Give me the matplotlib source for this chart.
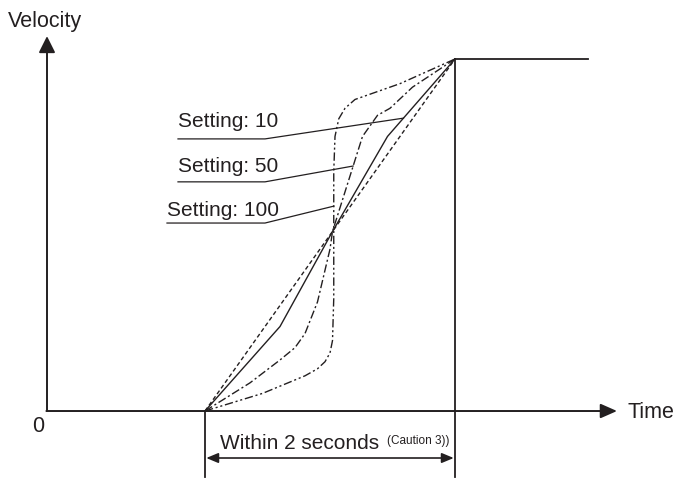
import numpy as np
import matplotlib
matplotlib.use("Agg")
import matplotlib.pyplot as plt

plt.rcParams['font.family'] = ['Liberation Sans', 'DejaVu Sans']

# time axis (s) and velocity (normalised)
t_start = 1.264
t_end = 3.264
t_flat_end = 4.328

# curve shapes as fraction of the 2 s ramp (u) vs fraction of top speed (v)
linear_u = [0.0, 1.0]
linear_v = [0.0, 1.0]

set10_u = [0.0, 0.30, 0.51, 0.73, 1.0]
set10_v = [0.0, 0.24, 0.51, 0.78, 1.0]

set50_u = [0.0, 0.18, 0.30, 0.36, 0.40, 0.45, 0.50, 0.51, 0.55, 0.59, 0.63, 0.69, 0.74, 0.83, 1.0]
set50_v = [0.0, 0.08, 0.145, 0.18, 0.22, 0.31, 0.46, 0.51, 0.60, 0.69, 0.78, 0.84, 0.86, 0.92, 1.0]

set100_u = [0.0, 0.23, 0.40, 0.45, 0.48, 0.50, 0.51, 0.515, 0.515, 0.515, 0.52, 0.535, 0.56, 0.60, 0.66, 0.78, 1.0]
set100_v = [0.0, 0.05, 0.10, 0.12, 0.14, 0.165, 0.20, 0.32, 0.50, 0.68, 0.78, 0.83, 0.86, 0.885, 0.90, 0.93, 1.0]

labels = ["Setting: 10", "Setting: 50", "Setting: 100"]
label_v = [0.807, 0.679, 0.554]       # text baselines
label_left = [1.048, 1.048, 0.96]
underline_v = [0.773, 0.651, 0.534]
leader_target_v = [0.832, 0.696, 0.582]

ink = '#231f20'

fig = plt.figure(figsize=(6.75, 4.78), dpi=100)
ax = fig.add_axes([0, 0, 1, 1])
ax.set_xlim(-0.376, 5.024)
ax.set_ylim(-0.1903, 1.1676)
ax.axis('off')


def to_t(u):
    return t_start + (t_end - t_start) * np.asarray(u)


# axes with arrows
ax.annotate('', xy=(0, 1.065), xytext=(0, 0),
            arrowprops=dict(arrowstyle='-|>,head_length=0.5,head_width=0.25',
                            mutation_scale=20, lw=1.4, color=ink,
                            shrinkA=0, shrinkB=0))
ax.annotate('', xy=(4.56, 0), xytext=(-0.005, 0),
            arrowprops=dict(arrowstyle='-|>,head_length=0.5,head_width=0.22',
                            mutation_scale=20, lw=1.4, color=ink,
                            shrinkA=0, shrinkB=0))

# curves
ax.plot(to_t(linear_u), linear_v, color=ink, lw=1.0, linestyle=(0, (3, 2)))
ax.plot(to_t(set10_u), set10_v, color=ink, lw=1.0)
ax.plot(to_t(set50_u), set50_v, color=ink, lw=1.0, linestyle=(0, (6, 2, 1.5, 2)))
ax.plot(to_t(set100_u), set100_v, color=ink, lw=1.0,
        linestyle=(0, (6, 2, 1.5, 2, 1.5, 2)))

# top speed plateau and boundary lines
ax.plot([t_end, t_flat_end], [1, 1], color=ink, lw=1.3)
ax.plot([t_end, t_end], [1, -0.1875], color=ink, lw=1.3)
ax.plot([t_start, t_start], [0, -0.1875], color=ink, lw=1.3)

# leaders and labels
curves = [(set10_u, set10_v), (set50_u, set50_v), (set100_u, set100_v)]
for (cu, cv), lab, lv, lx, uv, tv in zip(curves, labels, label_v, label_left,
                                         underline_v, leader_target_v):
    tu = np.interp(tv, cv, cu)
    ax.plot([lx, 1.744, to_t(tu)], [uv, uv, tv], color=ink, lw=0.9)
    ax.text(lx, lv, lab, fontsize=15, color=ink, ha='left', va='baseline')

# 2 second span
ax.annotate('', xy=(t_end - 0.01, -0.1335), xytext=(t_start + 0.01, -0.1335),
            arrowprops=dict(arrowstyle='<|-|>,head_length=0.36,head_width=0.15',
                            mutation_scale=20, lw=1.2, color=ink,
                            shrinkA=0, shrinkB=0))
ax.text(1.384, -0.108, "Within 2 seconds", fontsize=15, color=ink,
        ha='left', va='baseline')
ax.text(2.72, -0.094, "(Caution 3))", fontsize=8.5, color=ink,
        ha='left', va='baseline')

ax.text(-0.312, 1.091, "Velocity", fontsize=15.5, color=ink, ha='left', va='baseline')
ax.text(-0.072, -0.06, "0", fontsize=15.5, color=ink, ha='center', va='baseline')
ax.text(4.64, -0.02, "Time", fontsize=15.5, color=ink, ha='left', va='baseline')

fig.savefig("out.png", dpi=100)
